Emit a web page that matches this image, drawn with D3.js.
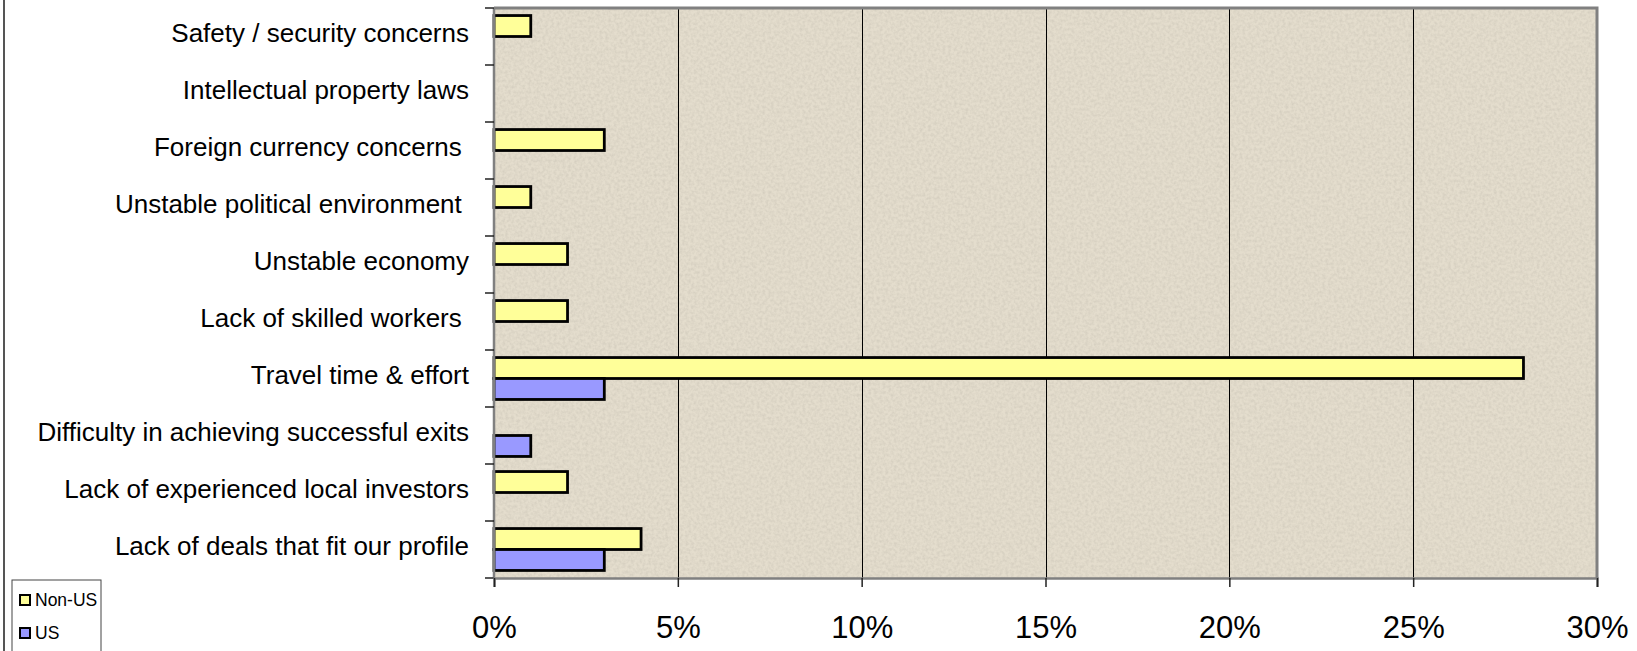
<!DOCTYPE html>
<html>
<head>
<meta charset="utf-8">
<script src="https://cdn.jsdelivr.net/npm/d3@7/dist/d3.min.js"></script>
<style>
  html, body { margin: 0; padding: 0; background: #ffffff; }
  svg { display: block; font-family: "Liberation Sans", Arial, sans-serif; }
  text { white-space: pre; }
</style>
</head>
<body>
<svg id="chart" width="1637" height="651"></svg>
<script>
// ---- data ----
const categories = [
  "Safety / security concerns",
  "Intellectual property laws",
  "Foreign currency concerns ",
  "Unstable political environment ",
  "Unstable economy",
  "Lack of skilled workers ",
  "Travel time & effort",
  "Difficulty in achieving successful exits",
  "Lack of experienced local investors",
  "Lack of deals that fit our profile"
];
const seriesNames = ["Non-US", "US"];
const nonUSValues = [1, 0, 3, 1, 2, 2, 28, 0, 2, 4];
const usValues    = [0, 0, 0, 0, 0, 0, 3, 1, 0, 3];
const xTicks = [0, 5, 10, 15, 20, 25, 30];
const xTickLabels = ["0%", "5%", "10%", "15%", "20%", "25%", "30%"];
const seriesColors = ["#FFFF99", "#9999FF"];

// ---- layout ----
const svg = d3.select("#chart");
const plot = { left: 494, right: 1597, top: 8, bottom: 578 };

const x = d3.scaleLinear().domain([0, 30]).range([plot.left, plot.right]);
const y = d3.scaleBand().domain(categories).range([plot.top, plot.bottom]).paddingInner(0).paddingOuter(0);
const ySub = d3.scaleBand().domain(seriesNames).range([0, y.bandwidth()]).paddingInner(0).paddingOuter(0.36);

const rows = categories.map((c, i) => ({ cat: c, values: [nonUSValues[i], usValues[i]] }));

// texture filter for plot background
const defs = svg.append("defs");
const f = defs.append("filter").attr("id", "grain")
  .attr("x", 0).attr("y", 0).attr("width", 1).attr("height", 1);
f.append("feTurbulence").attr("type", "fractalNoise").attr("baseFrequency", 0.35)
  .attr("numOctaves", 2).attr("seed", 3).attr("result", "noise");
f.append("feColorMatrix").attr("in", "noise").attr("type", "matrix")
  .attr("values", "0 0 0 0 0.45  0 0 0 0 0.42  0 0 0 0 0.36  0 0 0 -1.6 1.05")
  .attr("result", "tint");
f.append("feComposite").attr("in", "tint").attr("in2", "SourceGraphic").attr("operator", "in");

// outer chart border (left side)
svg.append("line")
  .attr("x1", 4).attr("x2", 4).attr("y1", 0).attr("y2", 651)
  .attr("stroke", "#555").attr("stroke-width", 2);

// plot background
svg.append("rect")
  .attr("x", plot.left).attr("y", plot.top)
  .attr("width", plot.right - plot.left).attr("height", plot.bottom - plot.top)
  .attr("fill", "#e4ddcd");
svg.append("rect")
  .attr("x", plot.left).attr("y", plot.top)
  .attr("width", plot.right - plot.left).attr("height", plot.bottom - plot.top)
  .attr("fill", "#e4ddcd")
  .attr("filter", "url(#grain)")
  .attr("opacity", 0.35);

// gridlines
svg.append("g").selectAll("line")
  .data(xTicks.filter(t => t > 0 && t < 30))
  .join("line")
  .attr("x1", d => Math.round(x(d)) + 0.5).attr("x2", d => Math.round(x(d)) + 0.5)
  .attr("y1", plot.top).attr("y2", plot.bottom)
  .attr("stroke", "#000").attr("stroke-width", 1);

// plot border (top/right gray)
svg.append("path")
  .attr("d", `M${plot.left},${plot.top}H${plot.right}V${plot.bottom}`)
  .attr("fill", "none").attr("stroke", "#808080").attr("stroke-width", 3);

// bars
const groups = svg.append("g").selectAll("g")
  .data(rows).join("g")
  .attr("transform", d => `translate(0,${y(d.cat)})`);

groups.selectAll("rect")
  .data(d => d.values.map((v, j) => ({ v, s: seriesNames[j], j })).filter(e => e.v > 0))
  .join("rect")
  .attr("x", x(0))
  .attr("y", d => ySub(d.s))
  .attr("width", d => x(d.v) - x(0))
  .attr("height", ySub.bandwidth())
  .attr("fill", d => seriesColors[d.j])
  .attr("stroke", "#000")
  .attr("stroke-width", 2.8);

// y axis
const yAxisG = svg.append("g");
yAxisG.append("line")
  .attr("x1", plot.left).attr("x2", plot.left)
  .attr("y1", plot.top).attr("y2", plot.bottom)
  .attr("stroke", "#808080").attr("stroke-width", 2.5);
const boundaries = categories.map(c => y(c)).concat([plot.bottom]);
yAxisG.selectAll("line.tick")
  .data(boundaries).join("line").attr("class", "tick")
  .attr("x1", plot.left - 9).attr("x2", plot.left)
  .attr("y1", d => d).attr("y2", d => d)
  .attr("stroke", "#222").attr("stroke-width", 1.5);
yAxisG.selectAll("text")
  .data(categories).join("text")
  .attr("x", 469)
  .attr("y", d => y(d) + y.bandwidth() / 2 - 4)
  .attr("text-anchor", "end")
  .attr("dominant-baseline", "central")
  .attr("font-size", 26)
  .attr("fill", "#000")
  .text(d => d);

// x axis
const xAxis = d3.axisBottom(x)
  .tickValues(xTicks)
  .tickSize(9)
  .tickFormat((d, i) => xTickLabels[i]);
const xAxisG = svg.append("g")
  .attr("transform", `translate(0,${plot.bottom})`)
  .call(xAxis);
xAxisG.select(".domain").attr("stroke", "#808080").attr("stroke-width", 2.5);
xAxisG.selectAll(".tick line").attr("stroke", "#222").attr("stroke-width", 1.5);
xAxisG.selectAll(".tick text")
  .attr("font-family", "Liberation Sans, Arial, sans-serif")
  .attr("font-size", 31)
  .attr("fill", "#000")
  .attr("dy", 0)
  .attr("y", 60);

// legend
const legend = svg.append("g");
legend.append("rect")
  .attr("x", 12).attr("y", 580).attr("width", 89).attr("height", 80)
  .attr("fill", "#fff").attr("stroke", "#444").attr("stroke-width", 1);
const legendY = d3.scalePoint().domain(seriesNames).range([600, 633]);
const li = legend.selectAll("g.item").data(seriesNames).join("g").attr("class", "item")
  .attr("transform", d => `translate(0,${legendY(d)})`);
li.append("rect")
  .attr("x", 20).attr("y", -5).attr("width", 10).attr("height", 10)
  .attr("fill", (d, i) => seriesColors[i]).attr("stroke", "#000").attr("stroke-width", 2);
li.append("text")
  .attr("x", 35).attr("y", 0)
  .attr("dominant-baseline", "central")
  .attr("font-size", 17.5)
  .attr("fill", "#000")
  .text(d => d);
</script>
</body>
</html>
